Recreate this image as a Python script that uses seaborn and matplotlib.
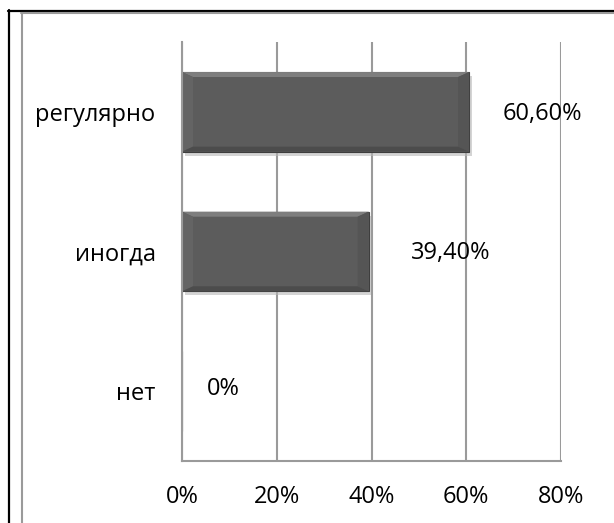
import matplotlib
matplotlib.use("Agg")
import matplotlib.pyplot as plt
import seaborn as sns
import pandas as pd
from matplotlib.lines import Line2D
from matplotlib.patches import Polygon
from matplotlib.transforms import IdentityTransform
import matplotlib.patheffects as pe

categories = ["регулярно", "иногда", "нет"]
values = [60.6, 39.4, 0.0]
x_ticks = [0, 20, 40, 60, 80]
x_tick_labels = ["0%", "20%", "40%", "60%", "80%"]

sns.set_theme(style="white")
plt.rcParams["font.family"] = ["Open Sans", "DejaVu Sans"]

df = pd.DataFrame({"category": categories, "value": values})

W, H = 614, 523
FS = 17
fig = plt.figure(figsize=(W / 100, H / 100), dpi=100)
ax = fig.add_axes([182 / W, 1 - 461 / H, (561 - 182) / W, (461 - 42) / H])

sns.barplot(data=df, x="value", y="category", orient="h", ax=ax,
            color="#5c5c5c", width=0.57, edgecolor="#3e3e3e", linewidth=0.8,
            saturation=1)

grid_c = "#9a9a9a"
ax.set_xlim(0, 80)
ax.set_ylim(2.5, -0.5)
ax.set_xticks(x_ticks)
ax.set_xticklabels(x_tick_labels, fontsize=FS, color="black")
ax.tick_params(axis="x", length=0, pad=17)
ax.tick_params(axis="y", length=0, pad=19, labelsize=FS, labelcolor="black")
ax.set_xlabel("")
ax.set_ylabel("")
ax.xaxis.grid(True, color=grid_c, linewidth=1.5)
ax.set_axisbelow(True)
for side in ["top", "right"]:
    ax.spines[side].set_visible(False)
for side in ["left", "bottom"]:
    ax.spines[side].set_color(grid_c)
    ax.spines[side].set_linewidth(1.5)

# value labels, placed to the right of each bar end
label_gap = [34, 42, 25]
for i, v in enumerate(values):
    txt = "0%" if v == 0 else f"{v:.2f}".replace(".", ",") + "%"
    dy = 2 if v == 0 else -2
    ax.annotate(txt, xy=(v, i), xytext=(label_gap[i], dy), textcoords="offset pixels",
                ha="left", va="center", fontsize=FS, color="black")

# bevel and soft shadow on the bars
fig.canvas.draw()
for p in ax.patches:
    if p.get_width() <= 0:
        continue
    p.set_path_effects([pe.SimplePatchShadow(offset=(2, -3), shadow_rgbFace="#b8b8b8", alpha=0.6),
                        pe.Normal()])
    bb = p.get_window_extent()
    x0, x1, y0, y1 = bb.x0, bb.x1, bb.y0, bb.y1
    b = 11
    tb = 5
    bevels = [
        ([(x0, y1), (x1, y1), (x1 - b, y1 - tb), (x0 + b, y1 - tb)], "#7e7e7e"),  # top
        ([(x0, y1), (x0 + b, y1 - tb), (x0 + b, y0 + tb), (x0, y0)], "#646464"),  # left
        ([(x1, y1), (x1 - b, y1 - tb), (x1 - b, y0 + tb), (x1, y0)], "#555555"),  # right
        ([(x0, y0), (x0 + b, y0 + tb), (x1 - b, y0 + tb), (x1, y0)], "#4c4c4c"),  # bottom
    ]
    for pts, c in bevels:
        ax.add_patch(Polygon(pts, closed=True, facecolor=c, edgecolor="none",
                             transform=IdentityTransform(), zorder=p.get_zorder() + 0.1))

# chart frame
fig.add_artist(Line2D([8 / W, 1], [1 - 10.5 / H, 1 - 10.5 / H], color="black", linewidth=1.6))
fig.add_artist(Line2D([8.5 / W, 8.5 / W], [0, 1 - 10 / H], color="black", linewidth=1.6))
fig.add_artist(Line2D([21 / W, 1], [1 - 12.5 / H, 1 - 12.5 / H], color="#9a9a9a", linewidth=1.5))
fig.add_artist(Line2D([21.5 / W, 21.5 / W], [0, 1 - 12.5 / H], color="#9a9a9a", linewidth=1.5))

fig.savefig("out.png", dpi=100)
